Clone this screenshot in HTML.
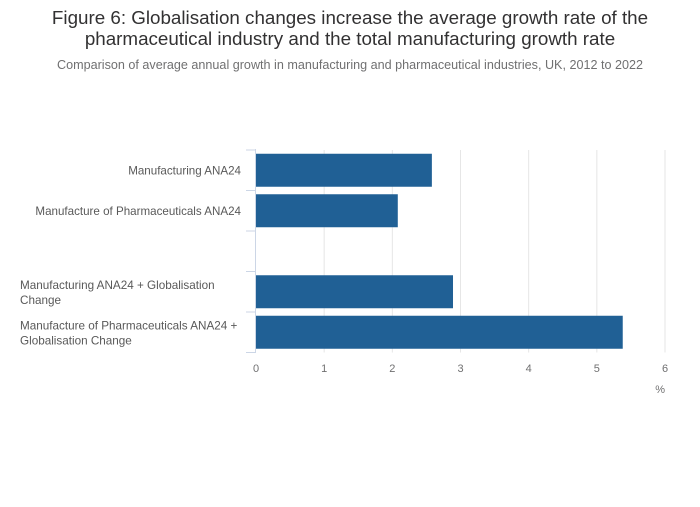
<!DOCTYPE html>
<html><head><meta charset="utf-8"><style>
body{margin:0;background:#fff;font-family:"Liberation Sans",sans-serif;}
svg text{font-family:"Liberation Sans",sans-serif;}
</style></head><body>
<svg id="chart" width="700" height="502" xmlns="http://www.w3.org/2000/svg">
<text x="350" y="24" text-anchor="middle" font-size="18.8" fill="#323132">Figure 6: Globalisation changes increase the average growth rate of the</text>
<text x="350" y="45" text-anchor="middle" font-size="18.8" fill="#323132">pharmaceutical industry and the total manufacturing growth rate</text>
<text x="350" y="69" text-anchor="middle" font-size="12.6" fill="#707071">Comparison of average annual growth in manufacturing and pharmaceutical industries, UK, 2012 to 2022</text>
<g id="grid"></g><g id="bars"></g><g id="axes"></g>
<text x="665" y="393" text-anchor="end" font-size="11" fill="#707071">%</text>
</svg>
<script>
const categories=[["Manufacturing ANA24"],["Manufacture of Pharmaceuticals ANA24"],null,["Manufacturing ANA24 + Globalisation","Change"],["Manufacture of Pharmaceuticals ANA24 +","Globalisation Change"]];
const values=[2.58,2.08,null,2.89,5.38];
const xTicks=[0,1,2,3,4,5,6];
const NS="http://www.w3.org/2000/svg";
const x0=256,x1=665,yTop=150,yBot=352.5;
const xs=v=>x0+(v-0)/(6-0)*(x1-x0);
const slot=(yBot-yTop)/categories.length;
function mk(tag,attrs,parent){const e=document.createElementNS(NS,tag);for(const k in attrs)e.setAttribute(k,attrs[k]);document.getElementById(parent).appendChild(e);return e;}
xTicks.forEach((t,i)=>{
 if(t>0){const l=mk('line',{x1:xs(t),x2:xs(t),y1:yTop,y2:yBot,stroke:'#e6e6e6','stroke-width':1},'grid');
 
 }
 const tx=mk('text',{x:xs(t),y:372,'text-anchor':'middle','font-size':11,fill:'#707071'},'axes');tx.textContent=t;
 
 
});
const ax=mk('line',{x1:x0-0.5,x2:x0-0.5,y1:yTop-1,y2:yBot,stroke:'#ccd6e6','stroke-width':1},'axes');


for(let i=0;i<=categories.length;i++){
 const y=yTop+i*slot;
 const tk=mk('line',{x1:246,x2:x0,y1:y,y2:y,stroke:'#ccd6e6','stroke-width':1},'axes');
 
 
}
categories.forEach((c,i)=>{
 const yc=yTop+(i+0.5)*slot;
 if(values[i]!=null){
  const r=mk('rect',{x:x0,y:yc-16.5,width:xs(values[i])-x0,height:33,fill:'#206095'},'bars');
  
  
 }
 if(c){
  if(c.length===1){
   const t=mk('text',{x:241,y:yc+4,'text-anchor':'end','font-size':11.6,fill:'#595959'},'axes');t.textContent=c[0];
   
   
  }else{
   c.forEach((s,j)=>{const t=mk('text',{x:20,y:yc-3+j*15,'font-size':11.7,fill:'#595959'},'axes');t.textContent=s;
   
   });
  }
 }
});
</script>
</body></html>
